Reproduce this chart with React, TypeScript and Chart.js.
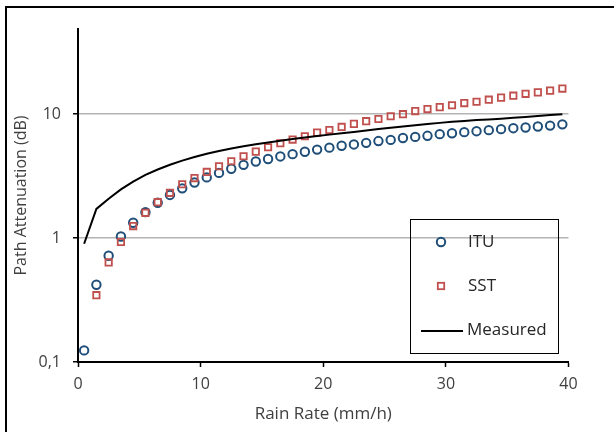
import React, { useEffect, useRef } from "react";
import { Chart, registerables } from "chart.js";

Chart.register(...registerables);

const rainRate = [
  0.5, 1.5, 2.5, 3.5, 4.5, 5.5, 6.5, 7.5, 8.5, 9.5,
  10.5, 11.5, 12.5, 13.5, 14.5, 15.5, 16.5, 17.5, 18.5, 19.5,
  20.5, 21.5, 22.5, 23.5, 24.5, 25.5, 26.5, 27.5, 28.5, 29.5,
  30.5, 31.5, 32.5, 33.5, 34.5, 35.5, 36.5, 37.5, 38.5, 39.5,
];

const ituValues = [
  0.124, 0.42, 0.72, 1.03, 1.33, 1.62, 1.93, 2.23, 2.52, 2.81,
  3.09, 3.36, 3.63, 3.9, 4.15, 4.35, 4.56, 4.76, 4.98, 5.18,
  5.37, 5.56, 5.7, 5.87, 6.07, 6.2, 6.42, 6.56, 6.69, 6.9,
  7.02, 7.16, 7.29, 7.43, 7.57, 7.71, 7.81, 7.95, 8.09, 8.28,
];

const sstValues = [
  null, 0.346, 0.636, 0.93, 1.25, 1.6, 1.95, 2.32, 2.72, 3.05,
  3.42, 3.8, 4.17, 4.58, 4.99, 5.41, 5.83, 6.24, 6.64, 7.1,
  7.46, 7.89, 8.35, 8.78, 9.15, 9.63, 10.0, 10.6, 11.0, 11.4,
  11.8, 12.3, 12.6, 13.1, 13.6, 14.1, 14.6, 15.0, 15.5, 16.1,
];

const measuredValues = [
  0.9, 1.72, 2.08, 2.47, 2.86, 3.24, 3.58, 3.91, 4.22, 4.51,
  4.79, 5.05, 5.29, 5.51, 5.72, 5.92, 6.11, 6.3, 6.48, 6.66,
  6.84, 7.01, 7.19, 7.39, 7.58, 7.77, 7.95, 8.13, 8.33, 8.51,
  8.67, 8.82, 8.96, 9.08, 9.2, 9.35, 9.51, 9.67, 9.83, 10.0,
];

const yTicks = [0.1, 1, 10];
const yTickLabels = ["0,1", "1", "10"];
const seriesNames = ["ITU", "SST", "Measured"];

const ITU_COLOR = "#1f4e79";
const SST_COLOR = "#c0504d";
const FONT = "'Open Sans', sans-serif";

function toPoints(values: (number | null)[]) {
  const pts: { x: number; y: number }[] = [];
  values.forEach((v, i) => {
    if (v !== null) pts.push({ x: rainRate[i], y: v });
  });
  return pts;
}

const framePlugin = {
  id: "frame",
  beforeDraw(chart: any) {
    const ctx = chart.ctx;
    ctx.save();
    ctx.fillStyle = "#ffffff";
    ctx.fillRect(0, 0, chart.width, chart.height);
    ctx.strokeStyle = "#000000";
    ctx.lineWidth = 2;
    ctx.beginPath();
    ctx.moveTo(6, chart.height);
    ctx.lineTo(6, 7);
    ctx.lineTo(chart.width, 7);
    ctx.stroke();
    ctx.restore();
  },
};

const legendPlugin = {
  id: "customLegend",
  afterDraw(chart: any) {
    const ctx = chart.ctx;
    ctx.save();
    ctx.strokeStyle = "#000000";
    ctx.lineWidth = 1;
    ctx.strokeRect(410.5, 219.5, 148, 134);
    ctx.font = `17px ${FONT}`;
    ctx.fillStyle = "#262626";
    ctx.textBaseline = "middle";
    ctx.textAlign = "left";
    // ITU
    ctx.strokeStyle = ITU_COLOR;
    ctx.lineWidth = 2;
    ctx.beginPath();
    ctx.arc(441, 242, 4.2, 0, Math.PI * 2);
    ctx.stroke();
    ctx.fillText(seriesNames[0], 468, 242);
    // SST
    ctx.strokeStyle = SST_COLOR;
    ctx.lineWidth = 1.8;
    ctx.strokeRect(437.8, 282.8, 6.4, 6.4);
    ctx.fillText(seriesNames[1], 468, 286);
    // Measured
    ctx.strokeStyle = "#000000";
    ctx.lineWidth = 2;
    ctx.beginPath();
    ctx.moveTo(421, 331);
    ctx.lineTo(463, 331);
    ctx.stroke();
    ctx.fillText(seriesNames[2], 467, 330);
    ctx.restore();
  },
};

export default function App() {
  const canvasRef = useRef<HTMLCanvasElement | null>(null);

  useEffect(() => {
    if (!canvasRef.current) return;
    const chart = new Chart(canvasRef.current, {
      type: "scatter",
      data: {
        datasets: [
          {
            label: seriesNames[0],
            data: toPoints(ituValues),
            pointStyle: "circle",
            pointRadius: 4.2,
            pointBorderWidth: 2,
            borderColor: ITU_COLOR,
            backgroundColor: "rgba(255,255,255,0)",
            showLine: false,
            order: 3,
          },
          {
            label: seriesNames[1],
            data: toPoints(sstValues),
            pointStyle: "rect",
            pointRadius: 4.5,
            pointBorderWidth: 1.8,
            borderColor: SST_COLOR,
            backgroundColor: "rgba(255,255,255,0)",
            showLine: false,
            order: 2,
          },
          {
            label: seriesNames[2],
            data: toPoints(measuredValues),
            pointRadius: 0,
            borderColor: "#000000",
            borderWidth: 2,
            showLine: true,
            tension: 0,
            order: 1,
          },
        ],
      },
      options: {
        animation: false,
        responsive: true,
        maintainAspectRatio: false,
        layout: { padding: { top: 29, right: 45.5, left: 0, bottom: 0 } },
        plugins: {
          legend: { display: false },
          tooltip: { enabled: false },
        },
        scales: {
          x: {
            type: "linear",
            min: 0,
            max: 40,
            ticks: {
              stepSize: 10,
              color: "#404040",
              font: { family: FONT, size: 16 },
              padding: 8,
            },
            grid: {
              drawOnChartArea: false,
              drawTicks: true,
              tickLength: 5,
              tickColor: "#000000",
              tickWidth: 1.5,
            },
            border: { color: "#000000", width: 2 },
            title: {
              display: true,
              text: "Rain Rate (mm/h)",
              color: "#404040",
              font: { family: FONT, size: 17 },
              padding: { top: 0, bottom: 8 },
            },
            afterFit(scale: any) {
              scale.height = 70;
            },
          },
          y: {
            type: "logarithmic",
            min: 0.1,
            max: 48.7,
            afterBuildTicks(scale: any) {
              scale.ticks = yTicks.map((v) => ({ value: v }));
            },
            ticks: {
              color: "#404040",
              font: { family: FONT, size: 16 },
              padding: 12,
              callback: (value: any) => {
                const idx = yTicks.indexOf(Number(value));
                return idx >= 0 ? yTickLabels[idx] : "";
              },
            },
            grid: {
              color: (c: any) =>
                c.tick && c.tick.value === 0.1 ? "rgba(0,0,0,0)" : "#b4b4b4",
              lineWidth: 1.5,
              tickLength: 5,
              tickColor: "#000000",
              tickWidth: 1.5,
            },
            border: { color: "#000000", width: 2 },
            title: {
              display: true,
              text: "Path Attenuation (dB)",
              color: "#404040",
              font: { family: FONT, size: 16 },
              padding: { top: 12, bottom: 0 },
            },
            afterFit(scale: any) {
              scale.width = 78;
            },
          },
        },
      },
      plugins: [framePlugin, legendPlugin],
    });
    return () => chart.destroy();
  }, []);

  return (
    <div style={{ position: "fixed", left: 0, top: 0, width: 614, height: 432 }}>
      <canvas ref={canvasRef} />
    </div>
  );
}
